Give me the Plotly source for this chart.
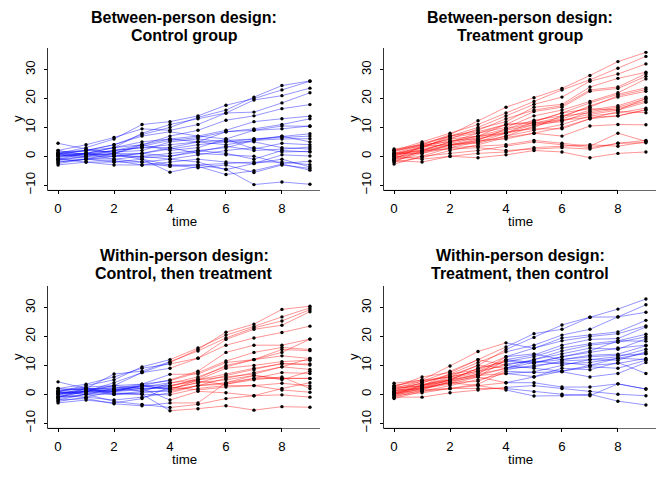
import plotly.graph_objects as go

time = [0, 1, 2, 3, 4, 5, 6, 7, 8, 9]

# Between-person design: control group (one list per person, y at time 0..9)
ctrl_between = [
    [0.5, 2, 4, 7.5, 10, 13.5, 16, 20.5, 24.5, 26.1],
    [1, 3, 6, 11, 12, 14, 17.7, 20, 23, 26],
    [-1, 1, 3, 8, 11, 13, 15, 19.5, 21, 23.6],
    [2, 4, 6.5, 9.5, 9, 11, 15, 15.3, 18.5, 22],
    [-0.5, 1, 2, 4, 7, 9, 12.5, 14, 16.5, 17.9],
    [1.5, 2, 3, 5, 6, 7, 9, 12, 13, 13.9],
    [0, 0.5, 2, 3, 4, 5, 8.5, 9.5, 11, 13],
    [-2, -1, 1, 3.5, 5.5, 6.5, 8.5, 9, 9.5, 10.5],
    [1, 2, 4, 7, 8.5, 7, 6, 9, 10.5, 10.4],
    [0, 1, 0, 1, 2.5, 4, 5, 6, 7, 7.8],
    [-1, 0, 2, 3, 3, 5, 5.5, 6, 6.5, 7],
    [2, 0.5, 1, 4, 6, 5, 4, 5.5, 6, 6.1],
    [-2.5, -1, 0, 0, 1, 2, 3, 5.5, 7, 5],
    [1, 1, 3, 4, 2, 3, 6, 2.5, 4.5, 4],
    [4.5, 2.5, 1, -0.5, 0, 1.5, 3.5, 2, 2.5, 3.2],
    [0.5, -0.5, -1, -2, -1, 0.5, 2, 3, 1.5, 1.7],
    [-1.5, 0, 1, 1, 0, 2, 1, -1, 2, 1.5],
    [-3, -2, -3, -3, -2, -1, -2, -2.5, 0.5, 0.1],
    [1, 0, 0, 1, 3, 1, 0.5, 0, -2.5, -1.7],
    [-1, -2, -2, -2, -3.5, -3, -2.5, -2, -2, -2.9],
    [0, 1, -1, 0, -1, -2, -4.6, -2.5, -1, -3.7],
    [-2, -1, -2, -1, -3, -4, -3, -5.6, -3, -4.2],
    [0.5, 1, 0.5, -1, -5.5, -3.5, -6.3, -5, -2.7, -4.8],
    [-1, -1, -1.5, -3, -3, -3, -4.5, -9.8, -8.9, -9.7],
    [1, 2, 1.5, 2, 5, 6, 5, 5, 3, 2.5],
]

# Between-person design: treatment group
trt_between = [
    [1, 4, 7.5, 12.3, 17, 20.3, 23.5, 28, 32.8, 36],
    [2, 5, 8, 11, 15, 19, 23, 26.5, 30.5, 34.6],
    [0, 3, 7, 10, 14, 18, 20.5, 26, 28.5, 32],
    [-1, 3.5, 6, 9.5, 12, 17, 18, 24, 27, 29.1],
    [2.5, 4, 7, 9, 13, 16, 17.5, 23, 24, 28.6],
    [-2, 2, 5, 8, 11, 15.5, 17, 22.5, 23.5, 27.7],
    [1, 3, 6.5, 8, 10, 14, 16, 19, 22, 26.8],
    [0.5, 3.5, 6, 7, 11, 12, 15, 18.5, 21.5, 23.7],
    [-0.5, 2, 5, 7, 9.5, 12.5, 14, 17, 21, 23.1],
    [1.5, 4.5, 7, 8.5, 11, 11.5, 13.5, 17.5, 20.5, 22.5],
    [-1.5, 1, 4, 6, 8, 11, 13, 16, 17.5, 20.5],
    [0, 2.5, 4.5, 6.5, 9, 11, 12, 15.5, 17, 19.9],
    [2, 4, 5, 7, 8, 10, 14, 15, 16.5, 19.2],
    [-2.7, 0, 3, 5, 7, 10.5, 12.5, 14.5, 16, 18.7],
    [1, 2, 4, 4.5, 7, 9, 11, 14, 15, 16.7],
    [-1, 1.5, 3.5, 5.5, 6, 8, 10, 13, 14, 16.2],
    [0.5, 3, 5.5, 6, 8.5, 9.5, 9.5, 13, 15.5, 15.1],
    [-2, -0.5, 2, 4, 6.5, 8, 7, 10.5, 11, 10.9],
    [1, 1, 3, 3.5, 4, 5.5, 4.5, 3.5, 8, 5.2],
    [-1, 0, 1, 2, 3.5, 5, 4, 3, 4.5, 4.7],
    [0, -1, 0, 1, 1.5, 3, 3.5, 4, 3.5, 5],
    [-1.5, -2, 0, -0.5, 0.5, 2, 1.5, -0.5, 1, 1.5],
    [2, 3.5, 4, 5, 8, 12, 15, 16.5, 16, 20],
    [-0.5, 1.5, 4, 5.5, 9.5, 11.5, 12.5, 13.5, 14, 16],
    [0.5, 2, 2.5, 3, 2, 2.5, 3, 2.5, 4.5, 5.5],
]

# Within-person design: control (time 0-4), then treatment (time 4-9)
within_ct = [
    [0, 1, 3, 7.5, 11, 15.5, 21.5, 24.3, 29.4, 30.5],
    [1, 3, 5, 9.5, 12, 16, 20.5, 23.5, 26.8, 29.9],
    [-1, 2, 7, 8, 11.3, 15, 19.5, 23, 25.4, 29.3],
    [2, 3.5, 6, 9, 10.5, 12.5, 19, 22.5, 23.9, 28.6],
    [0.5, 1, 4, 7.5, 9, 12.5, 17, 19.5, 21.4, 23.6],
    [-2, 0, 1, 3, 5, 8, 14.5, 17, 17, 19.1],
    [1, 2, 2, 3.5, 4.7, 7.5, 11.5, 14.5, 16.2, 15.5],
    [-1, 1, 2.5, 1, 3.8, 6, 9.5, 12, 15.5, 15.1],
    [0, 0.5, 1.5, 2, 2.6, 5.5, 10, 12, 13.3, 12.4],
    [1.5, 2, 0, 0.5, 1.5, 5, 9, 10, 11.3, 11.8],
    [-2.5, -1, 1, 3, 3, 5, 7, 9, 10.5, 10.5],
    [0.5, 1.5, 3, 2, 2, 4, 6.5, 8.5, 10.7, 10.1],
    [-1.5, 0, 2, 3, 1.5, 3, 5.5, 7.5, 9.5, 8.6],
    [2, 1.5, 1, 1.5, 3, 4.5, 3.5, 5.5, 7.5, 7.2],
    [-0.5, -1, -2, -1, 0.5, 3, 4, 6.5, 5.5, 5.5],
    [4.3, 2, 0.5, 0, -0.2, 2, 3, 3, 3.8, 2.9],
    [-3, -2, -3, -1.5, 2.5, 1.5, 2.5, 3, 1.5, 0.7],
    [0, 1, 1, 2, -2, 1, 0.5, -0.5, -0.2, -1],
    [-1, 0, -2.5, -3.5, -4.6, -3.5, -1.5, -0.5, 2, 4],
    [1, 0, 0, 0, -5.7, -5, -4, -5.5, -4.3, -4.5],
    [-2, -1.5, -3.3, -4, -3, -3, 4, 5.5, 5.5, 5.5],
    [0, 2, 1.5, 2.5, 4, 5, 6, 7, 9.5, 12.4],
    [1, 2.5, 3, 3.5, 6.9, 7, 11, 12, 14.5, 19.1],
    [-1, 1, 0, 1, 1, 3, 3.5, 5, 6, 2],
    [0.5, 1, 1.5, 3, 2, 4, 5, 6.5, 5, 8],
]

# Within-person design: treatment (time 0-4), then control (time 4-9)
within_tc = [
    [1, 3, 6, 10, 15.5, 19.7, 24, 26.7, 29.5, 33],
    [2, 4.5, 8, 12, 16.4, 21, 22.5, 26.7, 26.8, 31],
    [0, 3, 7, 11, 14.7, 17, 20.5, 22.5, 26.8, 28.4],
    [3, 5, 9.8, 14.8, 17.8, 15.9, 19.5, 20.5, 21.6, 25.6],
    [-0.5, 2, 5, 9, 13, 16, 18.5, 20, 21, 23.7],
    [1.5, 4, 7, 8.5, 12, 13.6, 17, 19, 19.3, 23.3],
    [0.5, 3, 5, 9, 11.3, 13, 16, 17.5, 18.5, 20.8],
    [2.5, 6, 7.5, 12, 10.1, 12, 15, 17, 18, 19.9],
    [-1, 1.5, 4.5, 7, 9, 12, 14, 16, 15.6, 19.2],
    [3.8, 5, 6, 8, 11.5, 10.7, 13, 15, 18.5, 18.4],
    [0, 2, 3.5, 6, 12, 11, 12, 13.5, 13.9, 16.8],
    [1, 4, 6.5, 10, 9, 9.5, 11.5, 12, 13, 15.6],
    [-1.5, 1, 3, 5, 7.2, 7.8, 10, 12, 11.8, 14.7],
    [2, 3, 5.5, 7.5, 10.5, 11.5, 10.5, 11, 12.5, 14.1],
    [0.5, 2.5, 4, 4.5, 8.5, 10, 11, 10, 10.7, 12.4],
    [3, 4.5, 6, 8, 10, 9, 8, 9.5, 9, 11.8],
    [-0.5, 0.5, 2, 3.5, 8, 7.5, 7.8, 6, 7.2, 11],
    [1, 2, 4, 6.5, 7.2, 6.1, 9, 8.5, 11, 7.2],
    [0, 1, 2, 3, 4, 6, 8, 10, 12.5, 12],
    [2, 3, 4.5, 6, 4, 4, 2.5, 2.5, 3.6, 1.8],
    [-1, -1, 0.5, 1.5, 2.4, 3, 2, 1, 0, -0.5],
    [0.5, 1.5, 2, 2, 2, 0.9, 0, -0.5, 3.6, 1.8],
    [1.5, 2, 4, 3, 1.5, -0.6, -0.5, 0, -2.4, -3.7],
    [2.5, 3.5, 5, 7, 13, 14, 12, 13, 13.5, 14],
    [0, 2.5, 5, 6.5, 9, 11, 13, 14.5, 16, 17],
]

titles = [
    ("Between-person design:", "Control group"),
    ("Between-person design:", "Treatment group"),
    ("Within-person design:", "Control, then treatment"),
    ("Within-person design:", "Treatment, then control"),
]
x_ticks = [0, 2, 4, 6, 8]
y_ticks = [-10, 0, 10, 20, 30]

BLUE = "rgba(0,0,255,0.42)"
RED = "rgba(255,0,0,0.42)"
FONT = "Liberation Sans, Arial, sans-serif"

# the page body adds an 8px margin; lay out in page pixels and subtract it
OFF = 8
W, H = 672 - OFF, 480 - OFF
# panel plot regions in page pixels (left, right, top, bottom)
panels = [
    (48, 320, 48, 192),
    (384, 656, 48, 192),
    (48, 320, 288, 432),
    (384, 656, 288, 432),
]
# (data, colour before switch, colour after switch, switch time)
specs = [
    (ctrl_between, BLUE, BLUE, None),
    (trt_between, RED, RED, None),
    (within_ct, BLUE, RED, 4),
    (within_tc, RED, BLUE, 4),
]

XR = [-0.36, 9.36]
YR = [-11.83, 37.63]


def px_x(v):
    return (v - OFF) / W


def px_y(v):
    return 1 - (v - OFF) / H


fig = go.Figure()
annotations = []
shapes = []
layout_axes = {}

for i, ((l, r, t, b), (data, c1, c2, sw)) in enumerate(zip(panels, specs)):
    n = i + 1
    xa = "x" if n == 1 else f"x{n}"
    ya = "y" if n == 1 else f"y{n}"
    # lines
    for person in data:
        if sw is None:
            fig.add_trace(go.Scatter(x=time, y=person, mode="lines",
                                     line=dict(color=c1, width=1),
                                     xaxis=xa, yaxis=ya, hoverinfo="skip",
                                     showlegend=False))
        else:
            k = time.index(sw)
            fig.add_trace(go.Scatter(x=time[:k + 1], y=person[:k + 1], mode="lines",
                                     line=dict(color=c1, width=1),
                                     xaxis=xa, yaxis=ya, hoverinfo="skip",
                                     showlegend=False))
    if sw is not None:
        k = time.index(sw)
        for person in data:
            fig.add_trace(go.Scatter(x=time[k:], y=person[k:], mode="lines",
                                     line=dict(color=c2, width=1),
                                     xaxis=xa, yaxis=ya, hoverinfo="skip",
                                     showlegend=False))
    # points
    pxs, pys = [], []
    for person in data:
        pxs += time
        pys += person
    fig.add_trace(go.Scatter(x=pxs, y=pys, mode="markers",
                             marker=dict(color="black", size=3.4, line=dict(width=0)),
                             xaxis=xa, yaxis=ya, showlegend=False))

    xdom = [px_x(l), px_x(r)]
    ydom = [px_y(b), px_y(t)]
    kx = "xaxis" if n == 1 else f"xaxis{n}"
    ky = "yaxis" if n == 1 else f"yaxis{n}"
    layout_axes[kx] = dict(domain=xdom, range=XR, anchor=ya, showgrid=False,
                           zeroline=False, showline=True, linecolor="#666666",
                           linewidth=1, ticks="outside", ticklen=3, tickwidth=1,
                           tickcolor="black", tickvals=x_ticks,
                           tickfont=dict(family=FONT, size=13.3, color="black"),
                           ticklabelstandoff=3)
    layout_axes[ky] = dict(domain=ydom, range=YR, anchor=xa, showgrid=False,
                           zeroline=False, showline=True, linecolor="#333333",
                           linewidth=1, ticks="outside", ticklen=3, tickwidth=1,
                           tickcolor="black", tickvals=y_ticks, tickangle=-90,
                           tickfont=dict(family=FONT, size=13.3, color="black"),
                           ticklabelstandoff=4)
    # darker axis segment over tick range for x (R axis() over bty='l' box)
    shapes.append(dict(type="line", xref=xa, yref=f"{ya} domain",
                       x0=XR[0], x1=x_ticks[-1], y0=0, y1=0,
                       line=dict(color="black", width=1)))
    # title (two lines)
    cx = px_x((l + r) / 2)
    for line_text, dy in zip(titles[i], (30, 12)):
        annotations.append(dict(text=f"<b>{line_text}</b>", x=cx, y=px_y(t - dy),
                                xref="paper", yref="paper", xanchor="center",
                                yanchor="middle", showarrow=False,
                                font=dict(family=FONT, size=16, color="black")))
    # axis titles
    annotations.append(dict(text="time", x=cx, y=px_y(b + 31),
                            xref="paper", yref="paper", xanchor="center",
                            yanchor="middle", showarrow=False,
                            font=dict(family=FONT, size=13.3, color="black")))
    annotations.append(dict(text="y", x=px_x(l - 31), y=px_y((t + b) / 2),
                            xref="paper", yref="paper", xanchor="center",
                            yanchor="middle", showarrow=False, textangle=-90,
                            font=dict(family=FONT, size=13.3, color="black")))

fig.update_layout(width=W, height=H, margin=dict(l=0, r=0, t=0, b=0),
                  paper_bgcolor="white", plot_bgcolor="white",
                  annotations=annotations, shapes=shapes, **layout_axes)

fig.write_html("out.html")
